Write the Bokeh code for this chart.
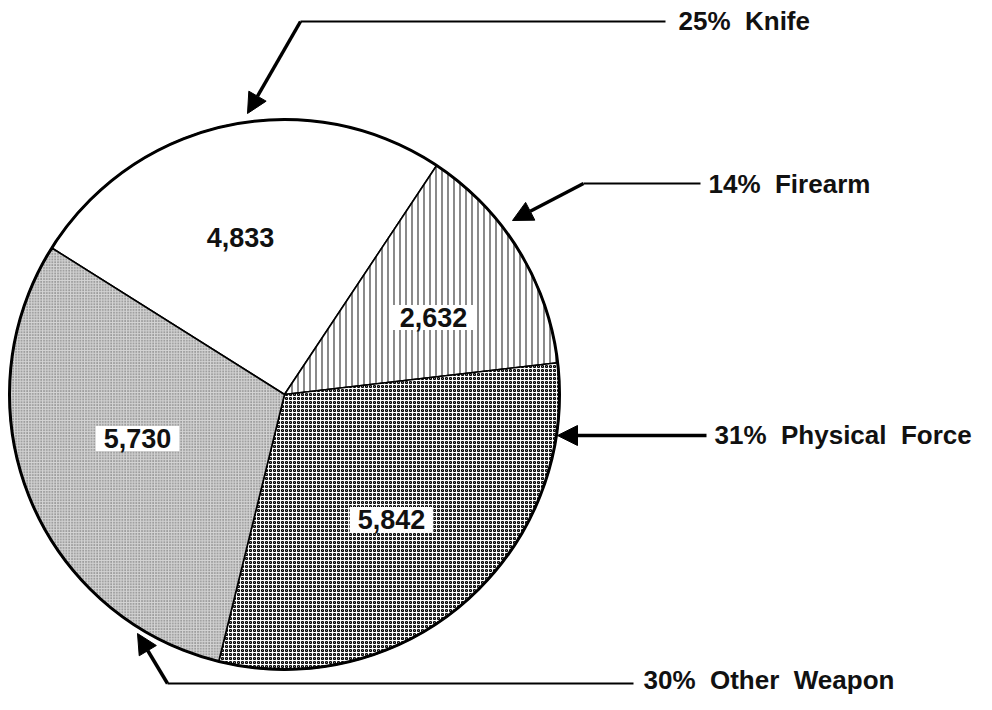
import numpy as np
from bokeh.plotting import figure
from bokeh.models import Range1d, Arrow, NormalHead, ColumnDataSource
from bokeh.core.properties import value
from bokeh.embed import file_html
from bokeh.resources import INLINE

# ---- data ----
categories = ["Knife", "Firearm", "Physical Force", "Other Weapon"]
counts = [4833, 2632, 5842, 5730]
pct_labels = ["25%", "14%", "31%", "30%"]
count_labels = ["4,833", "2,632", "5,842", "5,730"]

# ---- layout (picture pixel coordinates, y measured upward) ----
PW, PH = 976, 694
H = 710
CX, CY, R = 284, H - 394, 275
START_DEG = 147.8
FONT = value("Liberation Sans")
SP = "\u00a0 "

p = figure(width=PW, height=PH, output_backend="svg", toolbar_location=None,
           x_range=Range1d(0, PW), y_range=Range1d(H - PH, H), min_border=0)
p.axis.visible = False
p.grid.visible = False
p.outline_line_color = None
p.background_fill_color = "white"

total = float(sum(counts))
fr = np.array(counts) / total
ends = START_DEG - np.cumsum(fr) * 360.0
starts = np.concatenate([[START_DEG], ends[:-1]])

styles = [
    dict(fill_color="white", hatch_pattern=None),
    dict(fill_color="white", hatch_pattern="vertical_line", hatch_scale=6,
         hatch_weight=1.2, hatch_color="#3c3c3c"),
    dict(fill_color="white", hatch_pattern="ring", hatch_scale=4,
         hatch_weight=1.2, hatch_color="#000000"),
    dict(fill_color="#d4d4d4", hatch_pattern="dot", hatch_scale=2.8,
         hatch_weight=0.9, hatch_color="#555555"),
]
for i in range(len(counts)):
    st = dict(styles[i])
    hp = st.pop("hatch_pattern")
    kw = dict(x=CX, y=CY, radius=R, start_angle=starts[i], end_angle=ends[i],
              start_angle_units="deg", end_angle_units="deg", direction="clock",
              line_color="black", line_width=1.6, **st)
    if hp:
        kw["hatch_pattern"] = hp
    p.wedge(**kw)

p.circle(x=[CX], y=[CY], radius=R, fill_color=None, line_color="black", line_width=3)

# value labels inside slices
lx = [240, 433, 391, 137]
ly = [H - 237, H - 317, H - 519, H - 438]
src = ColumnDataSource(dict(x=lx, y=ly, t=count_labels))
p.text(x="x", y="y", text="t", source=src, text_font=FONT, text_font_style="bold",
       text_font_size="27px", text_align="center", text_baseline="middle",
       text_color="#111111", background_fill_color="white", padding=dict(x=8, y=3))

# outside labels with leader arrows
txt_x = [678, 708, 714, 643]
txt_y = [H - 20, H - 183, H - 434, H - 679]
names = [pct_labels[i] + SP + categories[i].replace(" ", SP) for i in range(4)]
p.text(x=txt_x, y=txt_y, text=names, text_font=FONT, text_font_style="bold",
       text_font_size="26px", text_align="left", text_baseline="middle",
       text_color="#111111")

# leaders: (line end near text, corner, arrow tip)
leaders = [
    ((665, 21), (300, 21), (247, 113)),
    ((700, 183), (583, 183), (512, 220)),
    ((706, 435), None, (557, 435)),
    ((633, 683), (167, 683), (137, 633)),
]
for a, corner, tip in leaders:
    if corner is not None:
        p.line([a[0], corner[0]], [H - a[1], H - corner[1]], line_color="black", line_width=2.2)
        s = corner
    else:
        s = a
    p.add_layout(Arrow(x_start=s[0], y_start=H - s[1], x_end=tip[0], y_end=H - tip[1],
                       line_width=3.5, line_color="black",
                       end=NormalHead(size=20, fill_color="black", line_color="black", line_width=1)))

open("out.html", "w").write(file_html(p, INLINE))
